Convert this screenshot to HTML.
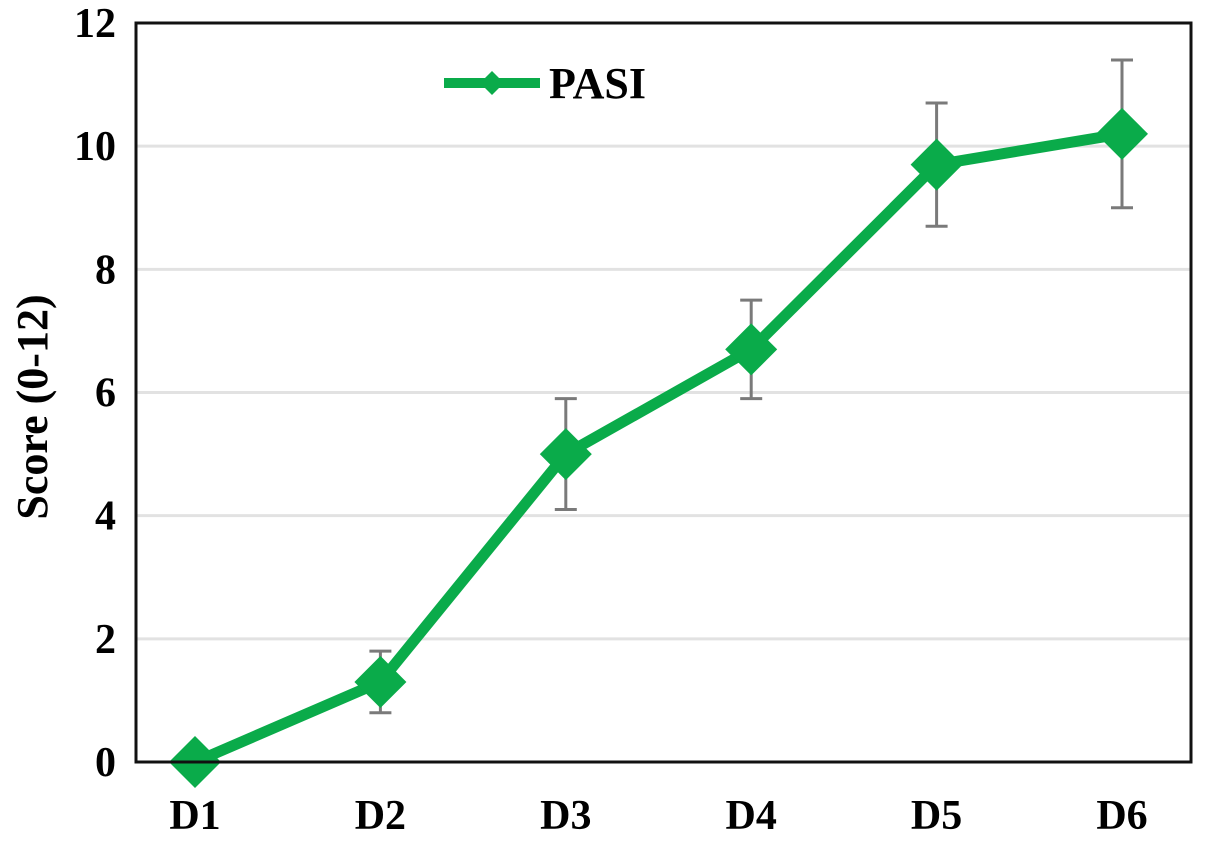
<!DOCTYPE html>
<html><head><meta charset="utf-8"><style>
body{margin:0;background:#fff;}
svg text{font-family:"Liberation Serif",serif;font-weight:bold;fill:#000;}
</style></head><body>
<svg id="chart" width="1205" height="840" viewBox="0 0 1205 840" xmlns="http://www.w3.org/2000/svg">
<g id="grid"></g>
<g id="series"></g>
<rect x="136" y="23" width="1055" height="739" fill="none" stroke="#111" stroke-width="3"/>
<g id="yticks"></g>
<g id="xticks"></g>
<text transform="translate(47,407) rotate(-90)" text-anchor="middle" font-size="44">Score (0-12)</text>
<g>
<line x1="444" y1="83" x2="540" y2="83" stroke="#0aab4a" stroke-width="10"/>
<polygon points="492,71 504,83 492,95 480,83" fill="#0aab4a"/>
<text x="549" y="98" font-size="44">PASI</text>
</g>
</svg>
<script>
const categories=["D1","D2","D3","D4","D5","D6"];
const values=[0,1.3,5.0,6.7,9.7,10.2];
const errors=[0,0.5,0.9,0.8,1.0,1.2];
const yTicks=[0,2,4,6,8,10,12];
const NS="http://www.w3.org/2000/svg";
function y(v){return 762-v*(739/12);}
function x(i){return 195+i*185.4;}
function mk(tag,attrs,parent){const e=document.createElementNS(NS,tag);for(const k in attrs)e.setAttribute(k,attrs[k]);parent.appendChild(e);return e;}
const grid=document.getElementById('grid'),yt=document.getElementById('yticks'),xt=document.getElementById('xticks'),s=document.getElementById('series');
yTicks.forEach(v=>{
 if(v>0&&v<12){const l=mk('line',{x1:136,x2:1191,y1:y(v),y2:y(v),stroke:'#e2e2e2','stroke-width':3},grid);
 
 }
 const t=mk('text',{x:116,y:y(v)+14,'text-anchor':'end','font-size':42},yt);t.textContent=v;
 
 
});
categories.forEach((c,i)=>{
 const t=mk('text',{x:x(i),y:829,'text-anchor':'middle','font-size':42},xt);t.textContent=c;
 
 
});
categories.forEach((c,i)=>{
 if(errors[i]>0){
  const g=mk('g',{stroke:'#7a7a7a','stroke-width':3},s);
  
  
  mk('line',{x1:x(i),x2:x(i),y1:y(values[i]+errors[i]),y2:y(values[i]-errors[i])},g);
  mk('line',{x1:x(i)-11,x2:x(i)+11,y1:y(values[i]+errors[i]),y2:y(values[i]+errors[i])},g);
  mk('line',{x1:x(i)-11,x2:x(i)+11,y1:y(values[i]-errors[i]),y2:y(values[i]-errors[i])},g);
 }
});
const pl=mk('polyline',{points:values.map((v,i)=>x(i)+','+y(v)).join(' '),fill:'none',stroke:'#0aab4a','stroke-width':11,'stroke-linejoin':'round'},s);


values.forEach((v,i)=>{
 const cx=x(i),cy=y(v),r=26;
 const p=mk('polygon',{points:`${cx},${cy-r} ${cx+r},${cy} ${cx},${cy+r} ${cx-r},${cy}`,fill:'#0aab4a'},s);
 
 
});
</script>
</body></html>
